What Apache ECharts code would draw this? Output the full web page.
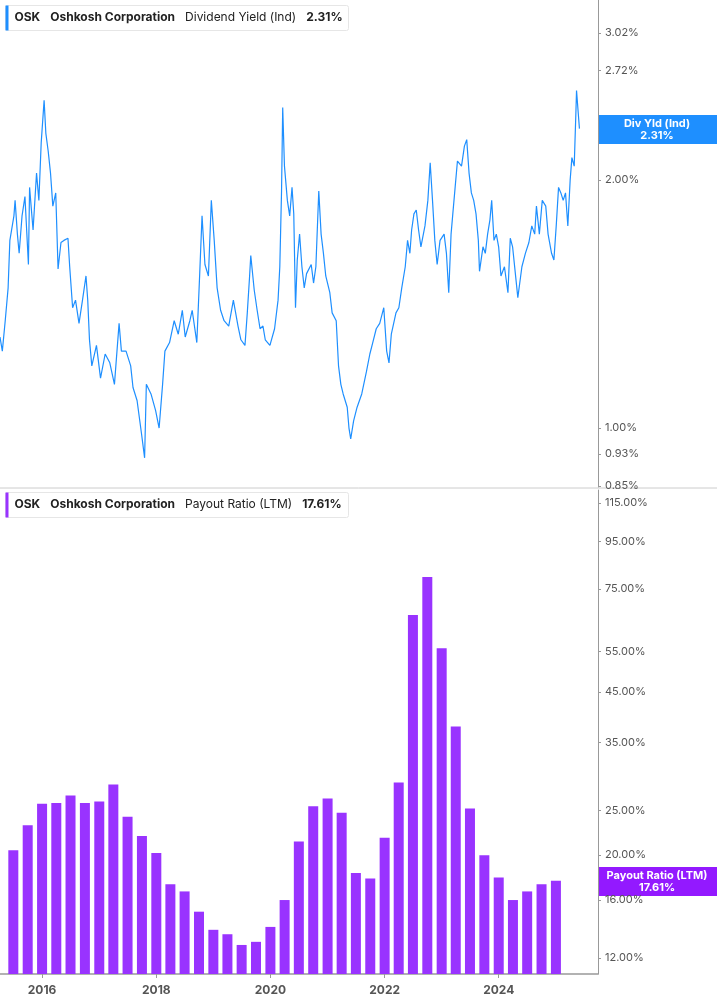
<!DOCTYPE html>
<html>
<head>
<meta charset="utf-8">
<script src="https://cdn.jsdelivr.net/npm/echarts@6/dist/echarts.min.js"></script>
<style>
html, body { margin: 0; padding: 0; background: #fff; }
#chart { width: 717px; height: 1005px; }
</style>
</head>
<body>
<div id="chart"></div>
<script>
// dividend yield (ind), dates as decimal years
var yieldDates = [2015.35,2015.39,2015.44,2015.49,2015.52,2015.59,2015.61,2015.65,2015.68,2015.73,2015.78,2015.84,2015.86,2015.92,2015.98,
  2016.02,2016.06,2016.11,2016.14,2016.18,2016.22,2016.26,2016.31,2016.35,2016.40,2016.45,2016.52,2016.55,2016.60,2016.65,2016.71,2016.77,2016.83,2016.86,2016.89,2016.93,
  2017.01,2017.08,2017.16,2017.24,2017.32,2017.40,2017.44,2017.52,2017.60,2017.64,2017.71,2017.79,2017.84,2017.87,2017.95,
  2018.03,2018.09,2018.15,2018.19,2018.27,2018.35,2018.42,2018.49,2018.54,2018.62,2018.66,2018.74,2018.79,2018.83,2018.88,2018.94,2018.99,
  2019.04,2019.09,2019.15,2019.21,2019.29,2019.37,2019.45,2019.50,2019.57,2019.61,2019.65,2019.67,2019.73,2019.78,2019.83,2019.88,2019.92,
  2020.00,2020.08,2020.14,2020.17,2020.20,2020.22,2020.25,2020.30,2020.34,2020.38,2020.41,2020.44,2020.47,2020.51,2020.55,2020.59,2020.63,2020.71,2020.75,2020.79,2020.84,2020.88,2020.92,2020.96,
  2021.03,2021.07,2021.14,2021.18,2021.22,2021.26,2021.33,2021.36,2021.39,2021.44,2021.50,2021.58,2021.66,2021.72,2021.77,2021.83,2021.89,2021.96,
  2022.01,2022.05,2022.09,2022.17,2022.22,2022.27,2022.33,2022.37,2022.41,2022.44,2022.48,2022.52,2022.56,2022.60,2022.67,2022.72,2022.76,2022.80,2022.84,2022.88,2022.93,
  2023.00,2023.04,2023.08,2023.12,2023.15,2023.19,2023.23,2023.30,2023.35,2023.39,2023.43,2023.47,2023.51,2023.55,2023.59,2023.61,2023.67,2023.71,2023.75,2023.79,2023.82,2023.86,2023.90,2023.94,2023.98,
  2024.04,2024.10,2024.14,2024.18,2024.24,2024.27,2024.34,2024.40,2024.46,2024.51,2024.56,2024.59,2024.64,2024.69,2024.75,2024.79,2024.85,2024.89,2024.93,2024.97,
  2025.01,2025.05,2025.09,2025.13,2025.17,2025.20,2025.24,2025.27,2025.28,2025.31,2025.33];
var yieldValues = [1.29,1.24,1.35,1.48,1.69,1.81,1.89,1.72,1.63,1.81,1.91,1.58,1.96,1.74,2.04,
  1.89,2.22,2.50,2.28,2.17,2.04,1.86,1.93,1.56,1.68,1.69,1.70,1.57,1.40,1.43,1.34,1.43,1.53,1.43,1.28,1.19,
  1.26,1.15,1.23,1.20,1.13,1.34,1.24,1.24,1.19,1.12,1.08,0.98,0.92,1.13,1.10,
  1.05,1.00,1.13,1.24,1.27,1.35,1.30,1.39,1.29,1.35,1.39,1.27,1.54,1.81,1.58,1.53,1.89,
  1.69,1.48,1.39,1.35,1.33,1.43,1.33,1.28,1.26,1.38,1.53,1.62,1.47,1.39,1.32,1.33,1.28,
  1.26,1.32,1.43,1.57,1.94,2.45,2.08,1.89,1.81,1.96,1.82,1.40,1.60,1.72,1.57,1.48,1.54,1.58,1.50,1.57,1.94,1.72,1.63,1.53,
  1.46,1.38,1.35,1.19,1.13,1.10,1.06,1.00,0.97,1.02,1.06,1.10,1.17,1.23,1.27,1.32,1.34,1.40,
  1.24,1.20,1.30,1.38,1.40,1.48,1.57,1.69,1.63,1.74,1.82,1.84,1.74,1.66,1.76,1.89,2.10,1.89,1.69,1.58,1.69,
  1.72,1.63,1.46,1.72,1.82,1.96,2.11,2.08,2.20,2.24,2.04,1.93,1.89,1.82,1.69,1.55,1.66,1.63,1.72,1.79,1.89,1.69,1.72,1.66,1.53,
  1.57,1.46,1.70,1.66,1.51,1.44,1.57,1.63,1.68,1.76,1.72,1.86,1.72,1.89,1.86,1.72,1.63,1.60,1.76,1.96,
  1.93,1.89,1.93,1.76,2.00,2.13,2.08,2.43,2.57,2.41,2.31];

// payout ratio (LTM), quarterly
var payoutDates = ['2015-07-01','2015-10-01','2016-01-01','2016-04-01','2016-07-01','2016-10-01','2017-01-01','2017-04-01',
  '2017-07-01','2017-10-01','2018-01-01','2018-04-01','2018-07-01','2018-10-01','2019-01-01','2019-04-01',
  '2019-07-01','2019-10-01','2020-01-01','2020-04-01','2020-07-01','2020-10-01','2021-01-01','2021-04-01',
  '2021-07-01','2021-10-01','2022-01-01','2022-04-01','2022-07-01','2022-10-01','2023-01-01','2023-04-01',
  '2023-07-01','2023-10-01','2024-01-01','2024-04-01','2024-07-01','2024-10-01','2025-01-01'];
var payoutValues = [20.5,23.2,25.8,25.9,26.9,25.9,26.1,28.4,24.2,22.0,20.2,17.3,16.7,15.1,13.8,13.5,
  12.8,13.0,14.0,16.0,21.4,25.5,26.5,24.7,18.3,17.8,21.8,28.7,65.9,79.6,55.9,37.9,
  25.2,20.0,17.9,16.0,16.7,17.3,17.61];

var yieldTicks = [0.85, 0.93, 1.00, 2.00, 2.72, 3.02];
var payoutTicks = [12, 16, 20, 25, 35, 45, 55, 75, 95, 115];
var yearTicks = ['2016-01-01', '2018-01-01', '2020-01-01', '2022-01-01', '2024-01-01'];

function decYear(d) {
  var y = Math.floor(d);
  var s = Date.UTC(y, 0, 1), e = Date.UTC(y + 1, 0, 1);
  return s + (d - y) * (e - s);
}
var xMin = decYear(2015.35), xMax = decYear(2025.65);
var yearMs = yearTicks.map(function(d) { return +new Date(d); });

var chart = echarts.init(document.getElementById('chart'));
var font = 'Inter, Roboto, sans-serif';
var labelStyle = { color: '#555', fontSize: 11, fontFamily: font };

function legendBox(top, color, metric, value) {
  return {
    type: 'group', left: 5, top: top,
    children: [
      { type: 'rect', shape: { x: 0, y: 0, width: 343, height: 25, r: 2 },
        style: { fill: '#fff', stroke: '#e6e6e6', lineWidth: 1 } },
      { type: 'rect', shape: { x: 0, y: 0, width: 3, height: 25 }, style: { fill: color } },
      { type: 'text', x: 9, y: 6,
        style: {
          text: '{b|OSK}   {b|Oshkosh Corporation}   {n|' + metric + '}   {b|' + value + '}',
          rich: {
            b: { fontSize: 12, fontWeight: 'bold', fill: '#222', fontFamily: font },
            n: { fontSize: 12, fill: '#222', fontFamily: font }
          }
        } }
    ]
  };
}

function endTag(top, color, t1, t2) {
  return {
    type: 'group', left: 598, top: top,
    children: [
      { type: 'rect', shape: { x: 0, y: 0, width: 119, height: 29 }, style: { fill: color } },
      { type: 'text', x: 59, y: 3, style: { text: t1 + '\n' + t2, fill: '#fff', fontSize: 11,
        fontWeight: 'bold', fontFamily: font, align: 'center', lineHeight: 12 } }
    ]
  };
}

var option = {
  animation: false,
  grid: [
    { left: 0, right: 119, top: 0, height: 487 },
    { left: 0, right: 119, top: 490, bottom: 31 }
  ],
  xAxis: [
    { type: 'time', gridIndex: 0, min: xMin, max: xMax,
      axisLine: { show: false }, axisTick: { show: false }, axisLabel: { show: false }, splitLine: { show: false } },
    { type: 'time', gridIndex: 1, min: xMin, max: xMax,
      axisLine: { show: true, lineStyle: { color: '#999', width: 1.5 } },
      axisTick: { show: true, customValues: yearMs, length: 4, lineStyle: { color: '#999' } },
      axisLabel: { customValues: yearMs, formatter: '{yyyy}', color: '#555', fontSize: 12,
        fontWeight: 'bold', fontFamily: font, margin: 10 },
      splitLine: { show: false } }
  ],
  yAxis: [
    { type: 'log', gridIndex: 0, position: 'right', min: 0.848, max: 3.31,
      axisLine: { show: true, lineStyle: { color: '#999' } },
      axisTick: { show: true, customValues: yieldTicks, length: 3, lineStyle: { color: '#999' } },
      axisLabel: Object.assign({ customValues: yieldTicks, margin: 7,
        formatter: function(v) { return v.toFixed(2) + '%'; } }, labelStyle),
      splitLine: { show: false } },
    { type: 'log', gridIndex: 1, position: 'right', min: 11.08, max: 122.7,
      axisLine: { show: true, lineStyle: { color: '#999' } },
      axisTick: { show: true, customValues: payoutTicks, length: 3, lineStyle: { color: '#999' } },
      axisLabel: Object.assign({ customValues: payoutTicks, margin: 7,
        formatter: function(v) { return v.toFixed(2) + '%'; } }, labelStyle),
      splitLine: { show: false } }
  ],
  series: [
    { type: 'line', xAxisIndex: 0, yAxisIndex: 0, symbol: 'none',
      lineStyle: { color: '#1e8fff', width: 1.2 },
      data: yieldDates.map(function(d, i) { return [decYear(d), yieldValues[i]]; }) },
    { type: 'bar', xAxisIndex: 1, yAxisIndex: 1, barWidth: 10,
      itemStyle: { color: '#9933ff' },
      data: payoutDates.map(function(d, i) { return [d, payoutValues[i]]; }) }
  ],
  graphic: [
    { type: 'line', shape: { x1: 0, y1: 488, x2: 717, y2: 488 }, style: { stroke: '#ccc', lineWidth: 1 } },
    legendBox(5, '#1e8fff', 'Dividend Yield (Ind)', '2.31%'),
    legendBox(492, '#9933ff', 'Payout Ratio (LTM)', '17.61%'),
    endTag(115, '#1e8fff', 'Div Yld (Ind)', '2.31%'),
    endTag(867, '#9319ff', 'Payout Ratio (LTM)', '17.61%')
  ]
};
chart.setOption(option);
</script>
</body>
</html>
